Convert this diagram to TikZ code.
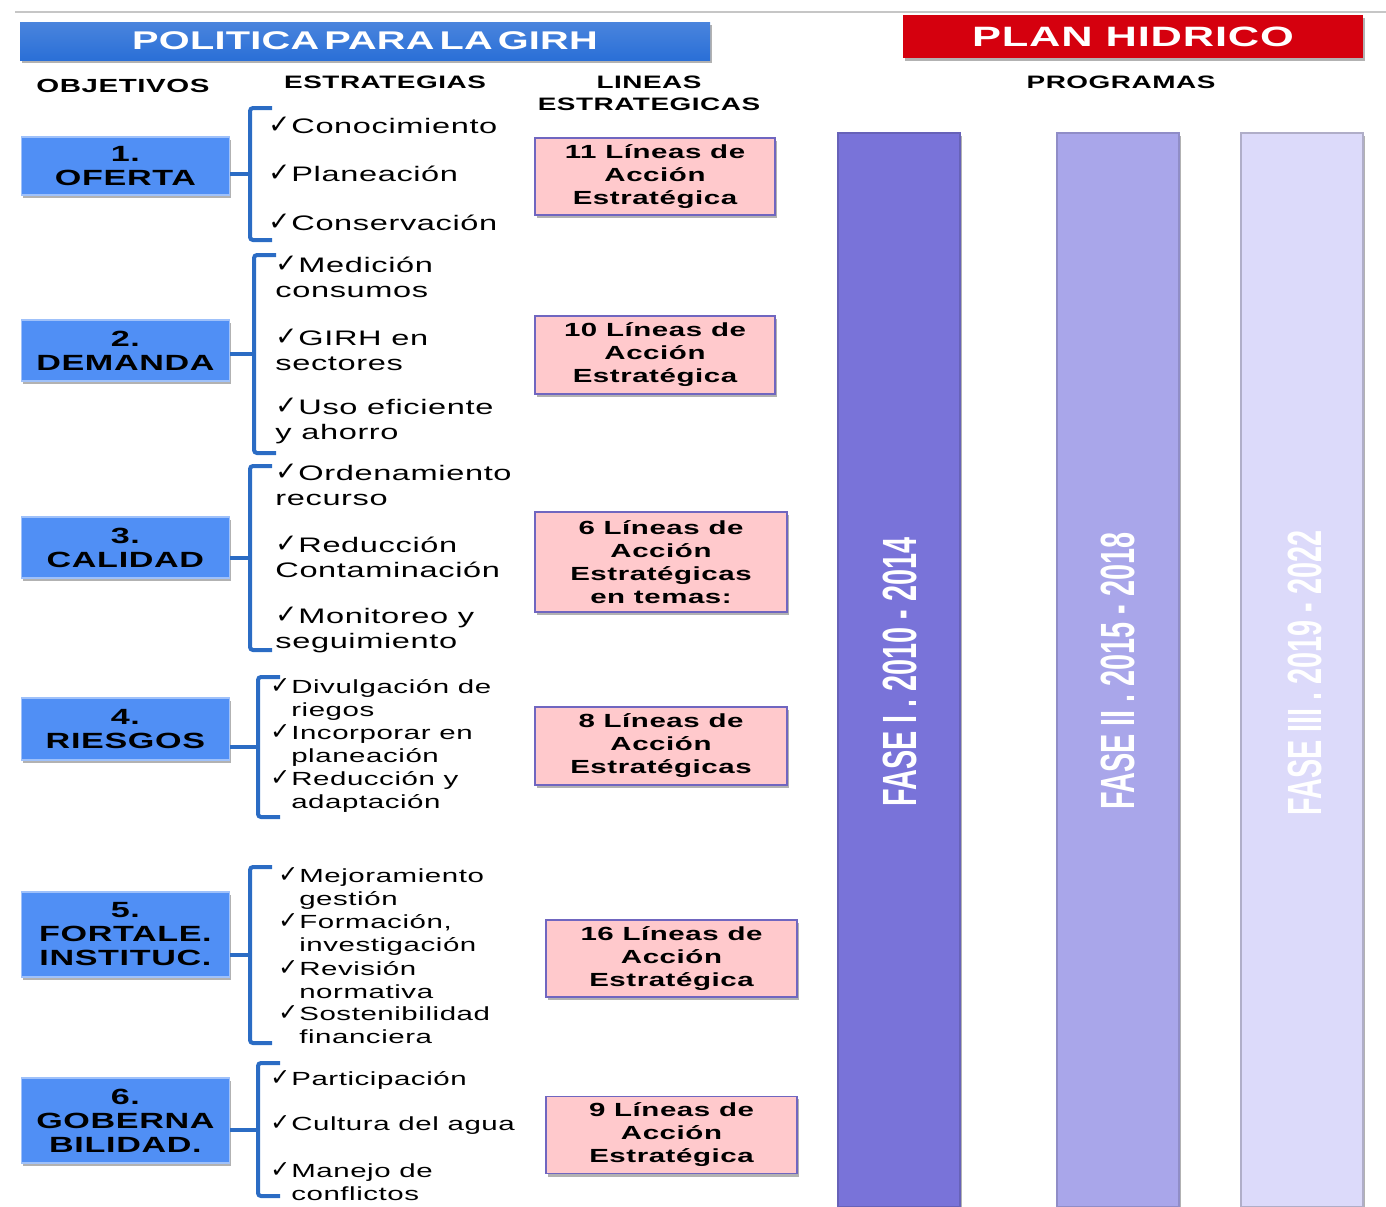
\documentclass[tikz,border=0pt]{standalone}
\usepackage{fontspec}
\setmainfont{Liberation Sans}[FakeStretch=1.55,LetterSpace=3]
\newfontfamily\bannerfont{Liberation Sans}[FakeStretch=1.55,LetterSpace=1,WordSpace=0.45]
\newfontfamily\condfont{Liberation Sans}[FakeStretch=0.6]
\newfontfamily\chkfont{DejaVu Sans}
\usetikzlibrary{positioning,calc,shadows}
\definecolor{girhblue}{RGB}{42,111,215}
\definecolor{objblue}{RGB}{80,143,245}
\definecolor{brkblue}{RGB}{43,108,196}
\definecolor{planred}{RGB}{213,0,14}
\definecolor{linpink}{RGB}{255,201,204}
\definecolor{linedge}{RGB}{112,102,192}
\definecolor{faseA}{RGB}{121,115,217}
\definecolor{faseB}{RGB}{169,166,234}
\definecolor{faseC}{RGB}{220,218,250}
\newcommand{\chk}{\scalebox{1.25}{\chkfont ✓}\kern0.5pt}
\newcommand{\hng}{\hphantom{\chk}}
\tikzset{
  shad/.style={drop shadow={shadow xshift=1pt, shadow yshift=-1.5pt, opacity=0.3, fill=black}},
  banner/.style={shad, text=white, inner sep=0pt, font=\bannerfont\bfseries\fontsize{12.8}{15}\selectfont},
  head/.style={align=center, inner sep=0pt, font=\bfseries\fontsize{9}{11}\selectfont},
  objbox/.style={shad, fill=objblue, draw=objblue!55!white, line width=0.6pt, anchor=east,
                 minimum width=104pt, align=center, font=\bfseries\fontsize{11}{12}\selectfont},
  brk/.style={brkblue, line width=2pt, rounded corners=1.5pt},
  item/.style={anchor=west, align=left, inner sep=0pt, font=\fontsize{10.5}{12.5}\selectfont},
  itemsm/.style={item, font=\fontsize{9.5}{11.5}\selectfont},
  linbox/.style={shad, fill=linpink, draw=linedge, line width=0.8pt, align=center,
                 font=\bfseries\fontsize{9.5}{11.5}\selectfont},
  fasebar/.style={shad, anchor=north, minimum width=61pt, minimum height=537pt, line width=0.8pt},
  fasetext/.style={rotate=90, text=white, inner sep=0pt, font=\condfont\bfseries\fontsize{24}{28}\selectfont},
}
\begin{document}
\begin{tikzpicture}[x=0.5pt,y=-0.5pt]
  \useasboundingbox (0,0) rectangle (1386,1206);
  \draw[gray!45, line width=1.2pt] (15,12) -- (1386,12);
  \node[banner, top color=girhblue!85!white, bottom color=girhblue, minimum width=345pt, minimum height=19pt]
    (girh) at (365,41) {POLITICA PARA LA GIRH};
  \node[banner, fill=planred, minimum width=230pt, minimum height=21.5pt, font=\bfseries\fontsize{14}{17}\selectfont]
    (plan) at (1133,36.5) {PLAN HIDRICO};
  \node[head, font=\bfseries\fontsize{9.5}{11}\selectfont] (hobj) at (123,86) {OBJETIVOS};
  \node[head] (hest) at (385,82) {ESTRATEGIAS};
  \node[head] (hlin) at (649,93) {LINEAS\\ESTRATEGICAS};
  \node[head] (hprog) at (1121,82) {PROGRAMAS};

  \node[objbox, minimum height=29pt] (obj1) at (230,166) {1.\\OFERTA};
  \node[objbox, minimum height=30.5pt] (obj2) at (230,350.5) {2.\\DEMANDA};
  \node[objbox, minimum height=30.5pt] (obj3) at (230,547.5) {3.\\CALIDAD};
  \node[objbox, minimum height=31pt] (obj4) at (230,729) {4.\\RIESGOS};
  \node[objbox, minimum height=42.5pt] (obj5) at (230,934.5) {5.\\FORTALE.\\INSTITUC.};
  \node[objbox, minimum height=42.5pt] (obj6) at (230,1120.5) {6.\\GOBERNA\\BILIDAD.};

  \foreach \n/\bx/\ya/\yb in {1/250/108/240, 2/254/255/453, 3/250/466/650,
                              4/258/677/817, 5/250/867/1043, 6/258/1063/1196}{
    \coordinate (b\n) at (\bx,{(\ya+\yb)/2});
    \draw[brk] (\bx+22,\ya) -| (\bx,\yb) -- (\bx+22,\yb);
    \draw[brk] (obj\n.east |- b\n) -- (b\n);
  }

  \node[item] (e11) at (268,125) {\chk Conocimiento};
  \node[item] (e12) at (268,173) {\chk Planeación};
  \node[item] (e13) at (268,222) {\chk Conservación};
  \node[item] (e21) at (275,276.5) {\chk Medición\\consumos};
  \node[item] (e22) at (275,349.5) {\chk GIRH en\\sectores};
  \node[item] (e23) at (275,420.5) {\chk Uso eficiente\\y ahorro};
  \node[item] (e31) at (275,485) {\chk Ordenamiento\\recurso};
  \node[item] (e32) at (275,557) {\chk Reducción\\Contaminación};
  \node[item] (e33) at (275,629.5) {\chk Monitoreo y\\seguimiento};
  \node[itemsm] (e41) at (270,699.5) {\chk Divulgación de\\\hng riegos};
  \node[itemsm] (e42) at (270,745.5) {\chk Incorporar en\\\hng planeación};
  \node[itemsm] (e43) at (270,791.5) {\chk Reducción y\\\hng adaptación};
  \node[itemsm] (e51) at (278,888.5) {\chk Mejoramiento\\\hng gestión};
  \node[itemsm] (e52) at (278,934.5) {\chk Formación,\\\hng investigación};
  \node[itemsm] (e53) at (278,979.5) {\chk Revisión\\\hng normativa};
  \node[itemsm] (e54) at (278,1024.5) {\chk Sostenibilidad\\\hng financiera};
  \node[itemsm] (e61) at (270,1080) {\chk Participación};
  \node[itemsm] (e62) at (270,1125) {\chk Cultura del agua};
  \node[itemsm] (e63) at (270,1182) {\chk Manejo de\\\hng conflictos};

  \node[linbox, minimum width=120pt, minimum height=38.5pt] (lin1) at (655,176.5) {11 Líneas de\\Acción\\Estratégica};
  \node[linbox, minimum width=120pt, minimum height=39pt] (lin2) at (655,355) {10 Líneas de\\Acción\\Estratégica};
  \node[linbox, minimum width=126pt, minimum height=50pt] (lin3) at (661,562) {6 Líneas de\\Acción\\Estratégicas\\en temas:};
  \node[linbox, minimum width=126pt, minimum height=39pt] (lin4) at (661,746) {8 Líneas de\\Acción\\Estratégicas};
  \node[linbox, minimum width=125.5pt, minimum height=38.5pt] (lin5) at (671.5,958.5) {16 Líneas de\\Acción\\Estratégica};
  \node[linbox, minimum width=125.5pt, minimum height=38pt] (lin6) at (671.5,1135) {9 Líneas de\\Acción\\Estratégica};

  \node[fasebar, fill=faseA, draw=faseA!85!black] (fase1) at (899,132) {};
  \node[fasebar, fill=faseB, draw=faseB!85!black] (fase2) at (1118,132) {};
  \node[fasebar, fill=faseC, draw=faseC!80!black] (fase3) at (1302,132) {};
  \node[fasetext] (f1) at (900,672) {FASE I . 2010 - 2014};
  \node[fasetext] (f2) at (1118,671) {FASE II . 2015 - 2018};
  \node[fasetext] (f3) at (1305,673) {FASE III . 2019 - 2022};
\end{tikzpicture}
\end{document}
